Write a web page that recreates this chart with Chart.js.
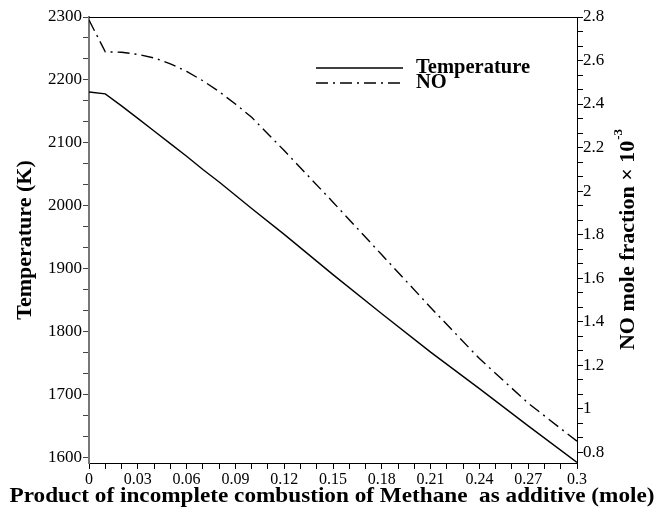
<!DOCTYPE html>
<html>
<head>
<meta charset="utf-8">
<script src="https://cdn.jsdelivr.net/npm/chart.js@4.4.0/dist/chart.umd.min.js"></script>
<style>
  html, body { margin: 0; padding: 0; background: #fff; }
</style>
</head>
<body>
<canvas id="chart" width="665" height="514"></canvas>
<script>
// amount of additive (mole)
var additive = [0, 0.01, 0.02, 0.03, 0.04, 0.05, 0.06, 0.07, 0.08, 0.09, 0.1, 0.12, 0.15, 0.18, 0.21, 0.24, 0.27, 0.3];
// temperature (K)
var temperature = [2181, 2178, 2159, 2139, 2119, 2099, 2079, 2058, 2038, 2017, 1996, 1955, 1891, 1829, 1768, 1710, 1651, 1593];
// NO mole fraction x 10^-3
var noFraction = [2.786, 2.64, 2.638, 2.628, 2.612, 2.585, 2.55, 2.507, 2.457, 2.40, 2.339, 2.186, 1.949, 1.707, 1.465, 1.23, 1.025, 0.85];

// labelled ticks of each axis
var xTicks = [0, 0.03, 0.06, 0.09, 0.12, 0.15, 0.18, 0.21, 0.24, 0.27, 0.3];
var tempTicks = [1600, 1700, 1800, 1900, 2000, 2100, 2200, 2300];
var noTicks = [0.8, 1, 1.2, 1.4, 1.6, 1.8, 2, 2.2, 2.4, 2.6, 2.8];

var seriesNames = ['Temperature', 'NO'];
var xTitle = 'Product of incomplete combustion of Methane  as additive (mole)';
var leftTitle = 'Temperature (K)';
var rightTitle = 'NO mole fraction \u00d7 10';
var rightTitleSup = '-3';

var serif = '"Liberation Serif", "Times New Roman", serif';

function pairs(xs, ys) {
  return xs.map(function(x, i) { return {x: x, y: ys[i]}; });
}

// majors plus 2 minor ticks between each pair
function withMinor(majors) {
  return function(scale) {
    var out = [];
    for (var i = 0; i < majors.length; i++) {
      out.push({value: majors[i]});
      if (i < majors.length - 1) {
        var step = (majors[i + 1] - majors[i]) / 3;
        out.push({value: majors[i] + step});
        out.push({value: majors[i] + 2 * step});
      }
    }
    var s = (majors[1] - majors[0]) / 3;
    for (var k = 1; k <= 2; k++) {
      var v = majors[0] - k * s;
      if (v >= scale.min - 1e-9) out.unshift({value: v});
    }
    scale.ticks = out;
  };
}

function majorLabel(majors, digits) {
  return function(value) {
    for (var i = 0; i < majors.length; i++) {
      if (Math.abs(majors[i] - value) < 1e-6) return String(+majors[i].toFixed(digits));
    }
    return '';
  };
}

// text squeezed/stretched to a given width
function wideText(ctx, text, cx, cy, width) {
  var w = ctx.measureText(text).width;
  ctx.save();
  ctx.translate(cx, cy);
  ctx.scale(width / w, 1);
  ctx.textAlign = 'center';
  ctx.fillText(text, 0, 0);
  ctx.restore();
}

// frame top line, legend inside the plot, axis titles
var extras = {
  id: 'extras',
  afterDraw: function(chart) {
    var ctx = chart.ctx, a = chart.chartArea;
    ctx.save();
    ctx.strokeStyle = '#000';
    ctx.lineWidth = 1;
    ctx.beginPath();
    ctx.moveTo(a.left, a.top + 0.5);
    ctx.lineTo(a.right, a.top + 0.5);
    ctx.stroke();

    // legend
    ctx.font = 'bold 20px ' + serif;
    var stretch = 114 / ctx.measureText(seriesNames[0]).width;
    chart.data.datasets.forEach(function(ds, i) {
      var y = a.top + 51 + i * 15;
      ctx.save();
      ctx.strokeStyle = ds.borderColor;
      ctx.lineWidth = ds.borderWidth;
      ctx.setLineDash(ds.borderDash || []);
      ctx.beginPath();
      ctx.moveTo(a.left + 227, y);
      ctx.lineTo(a.left + 314, y);
      ctx.stroke();
      ctx.restore();
      ctx.save();
      ctx.fillStyle = '#000';
      ctx.textBaseline = 'middle';
      ctx.textAlign = 'left';
      ctx.translate(a.left + 327, y);
      ctx.scale(stretch, 1);
      ctx.fillText(ds.label, 0, 0);
      ctx.restore();
    });

    // bottom axis title
    ctx.fillStyle = '#000';
    ctx.textBaseline = 'middle';
    ctx.font = 'bold 21px ' + serif;
    wideText(ctx, xTitle, (a.left + a.right) / 2 - 1, a.bottom + 34, 645);

    // right axis title
    ctx.translate(a.right + 51, (a.top + a.bottom) / 2);
    ctx.rotate(-Math.PI / 2);
    ctx.textAlign = 'left';
    ctx.font = 'bold 22px ' + serif;
    var w1 = ctx.measureText(rightTitle).width;
    ctx.font = 'bold 13px ' + serif;
    var w2 = ctx.measureText(rightTitleSup).width;
    var x0 = -(w1 + w2) / 2;
    ctx.font = 'bold 22px ' + serif;
    ctx.fillText(rightTitle, x0, 0);
    ctx.font = 'bold 13px ' + serif;
    ctx.fillText(rightTitleSup, x0 + w1 + 1, -9);
    ctx.restore();
  }
};

new Chart(document.getElementById('chart'), {
  type: 'line',
  data: {
    datasets: [{
      label: seriesNames[0],
      data: pairs(additive, temperature),
      yAxisID: 'y',
      borderColor: '#000',
      borderWidth: 1.4,
      pointRadius: 0,
      fill: false,
      tension: 0
    }, {
      label: seriesNames[1],
      data: pairs(additive, noFraction),
      yAxisID: 'y2',
      borderColor: '#000',
      borderWidth: 1.4,
      borderDash: [12, 5, 2, 5],
      pointRadius: 0,
      fill: false,
      tension: 0
    }]
  },
  options: {
    responsive: false,
    animation: false,
    devicePixelRatio: 1,
    layout: { padding: { top: 17, left: 0, right: 0, bottom: 0 } },
    plugins: {
      legend: { display: false },
      tooltip: { enabled: false }
    },
    scales: {
      x: {
        type: 'linear',
        min: 0,
        max: 0.3,
        afterBuildTicks: withMinor(xTicks),
        afterFit: function(s) { s.height = 51; },
        ticks: {
          autoSkip: false,
          maxRotation: 0,
          padding: 1,
          color: '#000',
          font: { family: serif, size: 16 },
          callback: majorLabel(xTicks, 2)
        },
        grid: { drawOnChartArea: false, drawTicks: true, tickLength: 6, color: '#000' },
        border: { display: true, color: '#000', width: 1 }
      },
      y: {
        type: 'linear',
        position: 'left',
        min: 1592,
        max: 2300,
        afterBuildTicks: withMinor(tempTicks),
        afterFit: function(s) { s.width = 89; },
        ticks: {
          autoSkip: false,
          padding: 1,
          color: '#000',
          font: { family: serif, size: 17 },
          callback: majorLabel(tempTicks, 0)
        },
        grid: { drawOnChartArea: false, drawTicks: true, tickLength: 6, color: '#444' },
        border: { display: true, color: '#777', width: 2 },
        title: {
          display: true,
          text: leftTitle,
          color: '#000',
          font: { family: serif, size: 22, weight: 'bold' },
          padding: { top: 12, bottom: 0 }
        }
      },
      y2: {
        type: 'linear',
        position: 'right',
        min: 0.75,
        max: 2.8,
        afterBuildTicks: withMinor(noTicks),
        afterFit: function(s) { s.width = 88; },
        ticks: {
          autoSkip: false,
          padding: 0,
          color: '#000',
          font: { family: serif, size: 17 },
          callback: majorLabel(noTicks, 1)
        },
        grid: { drawOnChartArea: false, drawTicks: true, tickLength: 6, color: '#000' },
        border: { display: true, color: '#000', width: 1 }
      }
    }
  },
  plugins: [extras]
});
</script>
</body>
</html>
